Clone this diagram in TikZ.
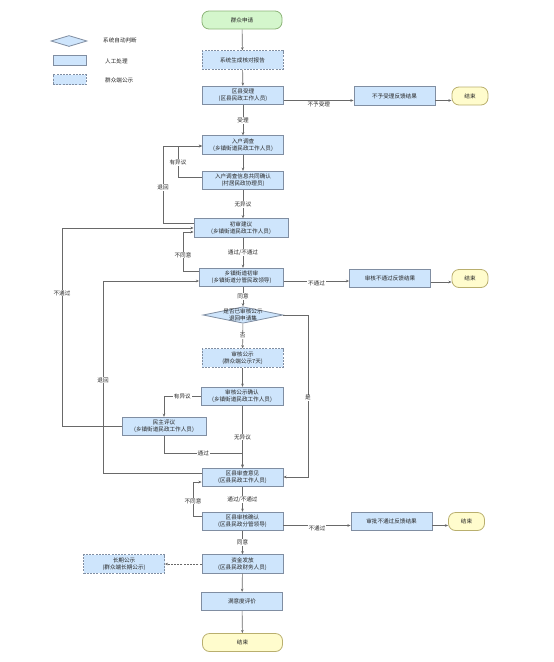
\documentclass[tikz,border=0pt]{standalone}
\usepackage{fontspec}
\setmainfont{Noto Sans CJK SC}
\usetikzlibrary{arrows.meta,shapes.geometric}
\definecolor{bfill}{RGB}{206,229,252}
\definecolor{bdraw}{RGB}{128,142,162}
\definecolor{gfill}{RGB}{212,246,204}
\definecolor{gdraw}{RGB}{140,180,120}
\definecolor{yfill}{RGB}{255,252,205}
\definecolor{ydraw}{RGB}{185,175,110}
\definecolor{lcol}{RGB}{105,105,105}
\begin{document}
\begin{tikzpicture}[x=1pt,y=-1pt,
  every node/.style={font=\fontsize{5.6}{7}\selectfont, inner sep=0pt, text=black!85},
  proc/.style={draw=bdraw, fill=bfill, line width=0.8pt, minimum width=81pt, minimum height=18.5pt, align=center},
  pub/.style={proc, dash pattern=on 2pt off 1.2pt},
  startn/.style={draw=gdraw, fill=gfill, rounded corners=7pt, minimum width=80pt, minimum height=18pt, line width=0.8pt},
  endn/.style={draw=ydraw, fill=yfill, rounded corners=7pt, minimum width=36pt, minimum height=18pt, line width=0.8pt},
  dec/.style={draw=bdraw, fill=bfill, diamond, line width=0.8pt, minimum width=80pt, minimum height=16.5pt, inner sep=0pt},
  arr/.style={draw=lcol, line width=0.65pt, -{Stealth[length=3.2pt,width=2.6pt]}},
  lbl/.style={fill=white, inner sep=0.8pt}
]
\useasboundingbox (0,0) rectangle (554,662);

% legend
\node[dec, minimum width=36pt, minimum height=11pt] (lg1) at (69,41) {};
\node[proc, minimum width=33pt, minimum height=10pt] (lg2) at (69.5,60) {};
\node[pub, minimum width=33pt, minimum height=10pt] (lg3) at (69.5,79.5) {};
\node[anchor=west] (lt1) at (103,40) {系统自动判断};
\node[anchor=west] (lt2) at (105,61) {人工处理};
\node[anchor=west] (lt3) at (105,80) {群众端公示};

% main column
\node[startn] (s) at (242,20) {群众申请};
\node[pub] (n1) at (242.5,60) {系统生成核对报告};
\node[proc] (n2) at (243,95.5) {区县受理\\(区县民政工作人员)};
\node[proc] (r1) at (394.5,96) {不予受理反馈结果};
\node[endn] (e1) at (470,96) {结束};
\node[proc] (n3) at (243,145) {入户调查\\(乡镇街道民政工作人员)};
\node[proc] (n4) at (243,180.5) {入户调查信息共同确认\\(村居民政协理员)};
\node[proc, minimum width=94pt] (n5) at (241,228) {初审建议\\(乡镇街道民政工作人员)};
\node[proc, minimum width=84pt] (n6) at (241.5,277.5) {乡镇街道初审\\(乡镇街道分管民政领导)};
\node[proc] (r2) at (390,278.5) {审核不通过反馈结果};
\node[endn] (e2) at (470,278.5) {结束};
\node[dec] (d) at (243,315) {};
\node (dt) at (243,315) [align=center] {是否已审核公示\\退回申请集};
\node[pub] (n7) at (242.5,358) {审核公示\\(群众端公示7天)};
\node[proc, minimum width=82pt] (n8) at (242,396.5) {审核公示确认\\(乡镇街道民政工作人员)};
\node[proc, minimum width=84pt] (n9) at (164,426.5) {民主评议\\(乡镇街道民政工作人员)};
\node[proc] (n10) at (242.5,477.5) {区县审查意见\\(区县民政工作人员)};
\node[proc] (n11) at (242.5,521.5) {区县审核确认\\(区县民政分管领导)};
\node[proc] (r3) at (391.5,521.5) {审批不通过反馈结果};
\node[endn] (e3) at (466.5,521.5) {结束};
\node[proc] (n12) at (242.5,564) {资金发放\\(区县民政财务人员)};
\node[pub] (n13) at (124,564) {长期公示\\(群众端长期公示)};
\node[proc] (n14) at (242,601.5) {满意度评价};
\node[startn, draw=ydraw, fill=yfill] (e4) at (242.5,642.5) {结束};

% helper coordinates
\coordinate (c1) at (178,146);
\coordinate (c2) at (163,146);
\coordinate (c3) at (183,232);
\coordinate (c4) at (62,228);
\coordinate (c5) at (103,281);
\coordinate (c6) at (308,477);
\coordinate (c7) at (164,396.5);
\coordinate (c8) at (164,453);
\coordinate (c9) at (242.5,453);
\coordinate (c10) at (193,482);

% vertical flow
\draw[arr] (s) -- (n1);
\draw[arr] (n1) -- (n2);
\draw[arr] (n2.south -| n3) -- node[lbl]{受理} (n3);
\draw[arr] (n3) -- (n4);
\draw[arr] (n4.south) -- node[lbl]{无异议} (n5.north -| n4);
\draw[arr] (n5.south -| n4) -- node[lbl]{通过/不通过} (n6.north -| n4);
\draw[arr] (n6.south -| d) -- node[lbl]{同意} (d);
\draw[arr] (d) -- node[lbl]{否} (n7);
\draw[arr] (n7) -- (n8.north -| n7);
\draw[arr] (n8.south -| n10) -- node[lbl, pos=0.5]{无异议} (n10);
\draw[arr] (n10) -- node[lbl]{通过/不通过} (n11);
\draw[arr] (n11) -- node[lbl]{同意} (n12);
\draw[arr] (n12) -- (n14);
\draw[arr] (n14) -- (e4);

% right branches
\draw[arr] (n2.east |- 0,100.5) -- node[lbl, yshift=-4pt]{不予受理} (r1.west |- 0,100.5);
\draw[arr] (r1.east |- 0,100.5) -- (e1.west |- 0,100.5);
\draw[arr] (n6.east |- 0,281) -- node[lbl, yshift=-2pt]{不通过} (r2.west |- 0,281);
\draw[arr] (r2.east |- 0,282) -- (e2.west |- 0,282);
\draw[arr] (n11.east |- 0,525.5) -- node[lbl, yshift=-3pt]{不通过} (r3.west |- 0,525.5);
\draw[arr] (r3.east |- 0,525.5) -- (e3.west |- 0,525.5);

% loops
\draw[arr] (n4.west |- 0,177) -| node[lbl, pos=0.74]{有异议} (c1) -- (n3.west |- c1);
\draw[arr] (n5.west |- 0,223) -| node[lbl, pos=0.73]{退回} (c2) -- (n3.west |- c2);
\draw[arr] (n6.west |- 0,271) -| node[lbl, pos=0.705]{不同意} (c3) -- (n5.west |- c3);
\draw[arr] (n9.west) -| node[lbl, pos=0.836]{不通过} (c4) -- (n5.west |- c4);
\draw[arr] (n10.west |- 0,473) -| node[lbl, pos=0.742]{退回} (c5) -- (n6.west |- c5);
\draw[arr] (d.east) -| node[lbl, pos=0.756]{是} (c6) -- (n10.east |- c6);
\draw[arr] (n8.west) -- node[lbl]{有异议} (c7) -- (n9.north -| c7);
\draw[arr] (n9.south -| c8) -- (c8) -- node[lbl, pos=0.5]{通过} (c9) -- (n10.north -| c9);
\draw[arr] (n11.west |- 0,516) -| node[lbl, pos=0.72]{不同意} (c10) -- (n10.west |- c10);
\draw[arr, dash pattern=on 2pt off 1.2pt] (n12) -- (n13);
\end{tikzpicture}
\end{document}
